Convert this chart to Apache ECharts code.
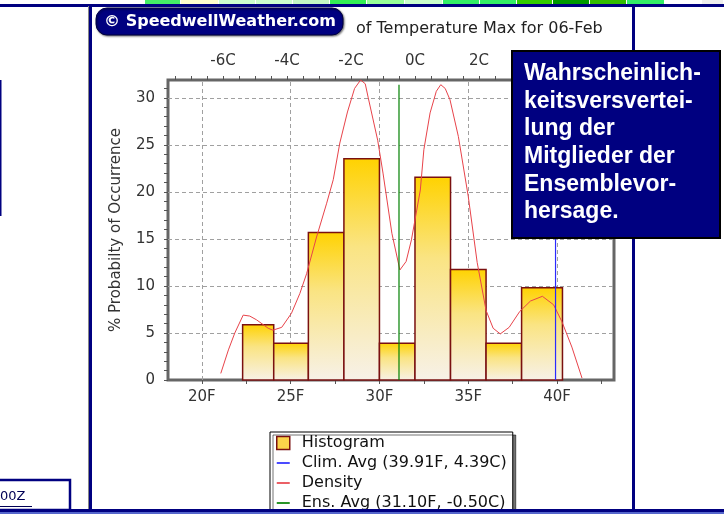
<!DOCTYPE html>
<html><head><meta charset="utf-8">
<script src="https://cdn.jsdelivr.net/npm/echarts@6/dist/echarts.min.js"></script>
<style>html,body{margin:0;padding:0;background:#fff}#c{width:724px;height:518px}</style>
</head><body><div id="c"></div>
<script>
// ---- data ----
const binStart = [22.3, 24.05, 26, 28, 30, 32, 34, 36, 38];
const binEnd   = [24.05, 26, 28, 30, 32, 34, 36, 38, 40.3];
const histValues = [5.88, 3.92, 15.69, 23.53, 3.92, 21.57, 11.76, 3.92, 9.80];
const densityF = [21.07, 21.5, 21.86, 22.33, 22.7, 23.08, 23.74, 24.0, 24.5, 25.05, 25.52, 25.9, 26.46, 27.03, 27.4, 27.77, 28.2, 28.6, 28.94, 29.2, 29.37, 29.9, 30.2, 30.7, 31.15, 31.5, 31.8, 32.3, 32.5, 32.85, 33.2, 33.45, 33.7, 33.97, 34.44, 35.0, 35.5, 36.0, 36.4, 36.8, 37.3, 37.9, 38.5, 39.17, 39.8, 40.27, 40.83, 41.4];
const densityValues = [0.7, 3.2, 5.0, 6.9, 6.8, 6.4, 5.5, 5.3, 5.6, 7.1, 9.2, 11.3, 15.2, 18.8, 21.3, 25.2, 28.5, 31.0, 31.9, 31.5, 30.0, 25.5, 22.0, 15.6, 11.7, 12.6, 14.9, 20.2, 24.5, 28.4, 30.7, 31.4, 31.0, 29.8, 25.9, 19.5, 12.5, 7.4, 5.5, 4.9, 5.6, 7.3, 8.4, 8.9, 8.0, 6.2, 3.5, 0.2];
const climAvgF = 39.91, climAvgC = 4.39;
const ensAvgF = 31.10, ensAvgC = -0.50;
const avgLineTop = 31.4;
const fTickLabels = [20, 25, 30, 35, 40];
const fMinorTicks = [20, 22.5, 25, 27.5, 30, 32.5, 35, 37.5, 40, 42.5];
const cTickLabels = [-6, -4, -2, 0, 2, 4, 6];
const cMinorTicks = [-7.5, -7, -6.5, -6, -5.5, -5, -4.5, -4, -3.5, -3, -2.5, -2, -1.5, -1, -0.5, 0, 0.5, 1, 1.5, 2, 2.5, 3, 3.5, 4, 4.5, 5, 5.5, 6];
const yTickLabels = [0, 5, 10, 15, 20, 25, 30];
const yMinorTicks = [0,1,2,3,4,5,6,7,8,9,10,11,12,13,14,15,16,17,18,19,20,21,22,23,24,25,26,27,28,29,30,31];
const xMinF = 18.1, xMaxF = 43.2, yMax = 31.9;
const titleText = 'of Temperature Max for 06-Feb';
const badgeText = '\u00A9 SpeedwellWeather.com';
const yAxisName = '% Probabilty of Occurrence';
const noteLines = ['Wahrscheinlich-', 'keitsversvertei-', 'lung der', 'Mitglieder der', 'Ensemblevor-', 'hersage.'];
const cornerText = '00Z';

const FONT = 'DejaVu Sans';
const climName = `Clim. Avg (${climAvgF.toFixed(2)}F, ${climAvgC.toFixed(2)}C)`;
const ensName = `Ens. Avg (${ensAvgF.toFixed(2)}F, ${ensAvgC.toFixed(2)}C)`;
const toC = f => (f - 32) / 1.8;

const barGrad = new echarts.graphic.LinearGradient(0, 0, 0, 1, [
  {offset: 0, color: '#ffd200'}, {offset: 0.4, color: '#fae483'}, {offset: 1, color: '#f7f1e8'}]);

const histData = binStart.map((s, i) => [s, binEnd[i], histValues[i]]);
const densityData = densityF.map((f, i) => [f, densityValues[i]]);

// page decoration (top strip colours)
const strip = [[0,145,'#ffffff'],[145,181,'#44ee66'],[181,219,'#ffffcc'],[219,256,'#ccffcc'],[256,293,'#ccffcc'],[293,330,'#c4f7c4'],[330,367,'#33ee55'],[367,405,'#99ff99'],[405,443,'#ccffcc'],[443,480,'#33ee66'],[480,517,'#33ee66'],[517,553,'#33cc00'],[553,590,'#009900'],[590,627,'#33bb00'],[627,665,'#33ee66'],[665,702,'#ffffff'],[702,724,'#eeeeee']];
const NAVY = '#000080';
const LINE_ICON = 'path://M0,0H20V2.6H0Z';
const CLIM_COLOR = '#2a2aff', DENS_COLOR = '#e8434a', ENS_COLOR = '#008000';
const graphics = [];
strip.forEach(c => graphics.push({type:'rect', z:100, shape:{x:c[0], y:0, width:c[1]-c[0]-1, height:4}, style:{fill:c[2]}}));
graphics.push({type:'rect', z:100, shape:{x:0, y:4, width:724, height:3}, style:{fill:NAVY}});
graphics.push({type:'rect', z:100, shape:{x:0, y:80, width:1.5, height:136}, style:{fill:NAVY}});
graphics.push({type:'rect', z:100, shape:{x:88, y:6, width:1, height:504}, style:{fill:'#888'}});
graphics.push({type:'rect', z:100, shape:{x:89, y:6, width:3, height:504}, style:{fill:NAVY}});
graphics.push({type:'rect', z:100, shape:{x:632, y:6, width:3, height:504}, style:{fill:NAVY}});
graphics.push({type:'rect', z:100, shape:{x:0, y:509, width:724, height:9}, style:{fill:'#fff'}});
graphics.push({type:'rect', z:101, shape:{x:0, y:509, width:724, height:3}, style:{fill:NAVY}});
graphics.push({type:'rect', z:101, shape:{x:0, y:512, width:724, height:2}, style:{fill:'#5566cc'}});
graphics.push({type:'rect', z:100, shape:{x:-3, y:480, width:73, height:30}, style:{fill:'#fff', stroke:NAVY, lineWidth:2.5}});
graphics.push({type:'text', z:101, x:0, y:497, style:{text:cornerText, font:'13px "DejaVu Sans"', fill:'#000055', verticalAlign:'middle'}});
graphics.push({type:'rect', z:101, shape:{x:0, y:506, width:32, height:1}, style:{fill:'#000055'}});
// badge + title
graphics.push({type:'rect', z:100, shape:{x:96, y:8, width:247, height:27, r:11}, style:{fill:NAVY, stroke:'#000040', lineWidth:1, shadowBlur:2, shadowColor:'rgba(0,0,0,0.5)', shadowOffsetX:1, shadowOffsetY:1}});
graphics.push({type:'text', z:101, x:220, y:21.5, style:{text:badgeText, font:'bold 16px "DejaVu Sans"', fill:'#fff', align:'center', verticalAlign:'middle'}});
graphics.push({type:'text', z:101, x:356, y:29, style:{text:titleText, font:'16px "DejaVu Sans"', fill:'#222', verticalAlign:'middle'}});
// annotation box
graphics.push({type:'rect', z:110, shape:{x:512, y:51, width:208, height:187}, style:{fill:NAVY, stroke:'#000', lineWidth:2}});
noteLines.forEach((t, i) => graphics.push({type:'text', z:111, x:524, y:[82,110,137,165,193,220][i] - 8, style:{text:t, font:'bold 23px "Liberation Sans"', fill:'#fff', verticalAlign:'middle'}}));

const chart = echarts.init(document.getElementById('c'), null, {renderer:'canvas'});
const axisLabelStyle = {fontFamily: FONT, fontSize: 15, color: '#333'};
chart.setOption({
  animation: false,
  backgroundColor: '#fff',
  textStyle: {fontFamily: FONT},
  grid: {left:168, top:80, width:446, height:300, show:true, borderColor:'#666', borderWidth:3, backgroundColor:'#fff'},
  xAxis: [{
    type:'value', position:'bottom', min:xMinF, max:xMaxF,
    axisLine:{show:false, onZero:false},
    axisTick:{show:true, length:4, customValues: fMinorTicks, lineStyle:{color:'#555'}},
    splitLine:{show:false},
    axisLabel:{...axisLabelStyle, margin:10, customValues: fTickLabels, formatter: v => v + 'F'}
  }, {
    type:'value', position:'top', min:toC(xMinF), max:toC(xMaxF),
    axisLine:{show:false, onZero:false},
    axisTick:{show:true, length:4, customValues: cMinorTicks, lineStyle:{color:'#555'}},
    splitLine:{show:false},
    axisLabel:{...axisLabelStyle, margin:11, customValues: cTickLabels, formatter: v => v + 'C'}
  }],
  yAxis: [{
    type:'value', min:0, max:yMax,
    name: yAxisName, nameLocation:'middle', nameGap:44,
    nameTextStyle:{fontFamily:FONT, fontSize:15, color:'#333'},
    axisLine:{show:false, onZero:false},
    axisTick:{show:true, length:4, customValues: yMinorTicks, lineStyle:{color:'#555'}},
    splitLine:{show:false},
    axisLabel:{...axisLabelStyle, margin:13, customValues: yTickLabels}
  }],
  legend: {
    orient:'vertical', left:270, top:432, selectedMode:false,
    itemWidth:13, itemHeight:13, itemGap:4, padding:[3,6,3,6],
    backgroundColor:'#fff', borderColor:'#000', borderWidth:1,
    shadowColor:'rgba(0,0,0,0.55)', shadowOffsetX:3, shadowOffsetY:3, shadowBlur:0,
    textStyle:{fontFamily:FONT, fontSize:16, color:'#111', padding:[0,0,0,7]},
    data: [
      {name:'Histogram', icon:'rect', itemStyle:{color:'#fcd34a', borderColor:'#7a1010', borderWidth:1.5}},
      {name:climName, icon:LINE_ICON, itemStyle:{color:CLIM_COLOR}},
      {name:'Density', icon:LINE_ICON, itemStyle:{color:DENS_COLOR}},
      {name:ensName, icon:LINE_ICON, itemStyle:{color:ENS_COLOR}}
    ]
  },
  graphic: graphics,
  series: [{
    name:'Histogram', type:'custom', xAxisIndex:0, yAxisIndex:0, z:2,
    data: histData, encode:{x:[0,1], y:2},
    itemStyle:{color:'#fcd34a'},
    renderItem: (params, api) => {
      const p0 = api.coord([api.value(0), api.value(2)]);
      const p1 = api.coord([api.value(1), 0]);
      return {type:'rect', shape:{x:p0[0], y:p0[1], width:p1[0]-p0[0], height:p1[1]-p0[1]},
        style:{fill:barGrad, stroke:'#7a1010', lineWidth:1.5}};
    },
    markLine: {
      silent:true, symbol:['none','none'], z:1, label:{show:false},
      lineStyle:{type:[4,3], color:'#a0a0a0', width:1},
      emphasis:{disabled:true},
      data: fTickLabels.map(v => ({xAxis:v})).concat(yTickLabels.filter(v => v > 0).map(v => ({yAxis:v})))
    }
  }, {
    name: climName, type:'line', xAxisIndex:0, yAxisIndex:0, z:4,
    data: [[climAvgF, 0], [climAvgF, avgLineTop]], symbol:'none',
    itemStyle:{color:CLIM_COLOR}, lineStyle:{color:CLIM_COLOR, width:1.2}
  }, {
    name:'Density', type:'line', xAxisIndex:0, yAxisIndex:0, z:3, clip:false,
    data: densityData, symbol:'none',
    itemStyle:{color:DENS_COLOR}, lineStyle:{color:DENS_COLOR, width:1}
  }, {
    name: ensName, type:'line', xAxisIndex:0, yAxisIndex:0, z:4,
    data: [[ensAvgF, 0], [ensAvgF, avgLineTop]], symbol:'none',
    itemStyle:{color:ENS_COLOR}, lineStyle:{color:ENS_COLOR, width:1.2}
  }]
});
</script></body></html>
